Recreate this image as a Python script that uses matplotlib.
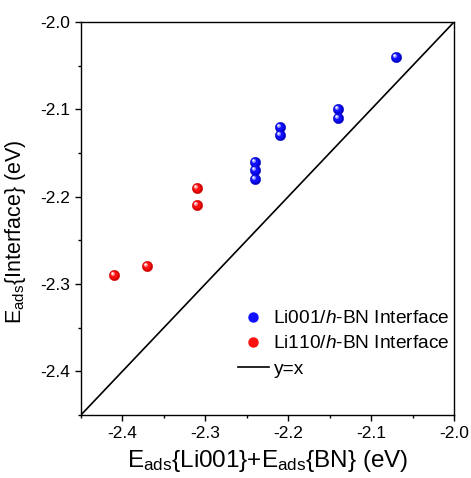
import numpy as np
import matplotlib.pyplot as plt
from matplotlib.path import Path
from matplotlib.lines import Line2D

plt.rcParams['font.family'] = ['Liberation Sans', 'DejaVu Sans']
plt.rcParams['mathtext.fontset'] = 'custom'
plt.rcParams['mathtext.rm'] = 'Liberation Sans'
plt.rcParams['mathtext.it'] = 'Liberation Sans:italic'

# data
li001_x = [-2.07, -2.14, -2.14, -2.21, -2.21, -2.24, -2.24, -2.24]
li001_y = [-2.04, -2.10, -2.11, -2.12, -2.13, -2.16, -2.17, -2.18]
li110_x = [-2.41, -2.37, -2.31, -2.31]
li110_y = [-2.29, -2.28, -2.19, -2.21]
diag = [-2.45, -2.0]

MS = 7.5


def offset_circle(cx, cy, r):
    c = Path.unit_circle()
    verts = c.vertices * r + np.array([cx, cy])
    return Path(verts, c.codes), max(abs(cx) + r, abs(cy) + r)


def sphere(ax, x, y, base, mid, light, ms=MS):
    ax.plot(x, y, 'o', ms=ms, color=base, mec=base, mew=0.3, zorder=3)
    layers = [(-0.12, 0.12, 0.75, mid), (-0.3, 0.3, 0.4, light), (-0.38, 0.38, 0.2, 'white')]
    for cx, cy, r, col in layers:
        p, m = offset_circle(cx, cy, r)
        ax.plot(x, y, ls='none', marker=p, ms=ms * m, color=col, mec='none', zorder=4)


fig = plt.figure(figsize=(4.71, 4.78), dpi=100)
ax = fig.add_axes([0.172, 0.132, 0.792, 0.822])

ax.plot(diag, diag, color='black', lw=1.2, zorder=2)
sphere(ax, li001_x, li001_y, '#0000c8', '#1010ff', '#8080ff')
sphere(ax, li110_x, li110_y, '#d00000', '#ff1010', '#ff8080')

ax.set_xlim(-2.45, -2.0)
ax.set_ylim(-2.45, -2.0)
ax.set_xticks([-2.4, -2.3, -2.2, -2.1, -2.0])
ax.set_yticks([-2.4, -2.3, -2.2, -2.1, -2.0])
ax.set_xticks(np.arange(-2.45, -1.99, 0.05), minor=True)
ax.set_yticks(np.arange(-2.45, -1.99, 0.05), minor=True)
ax.tick_params(which='both', direction='out', labelsize=12.5)
ax.tick_params(which='major', length=4, width=1, pad=4)
ax.tick_params(which='minor', length=2.5, width=1)
ax.xaxis.set_major_formatter(plt.FuncFormatter(lambda v, p: f'{v:.1f}'))
ax.yaxis.set_major_formatter(plt.FuncFormatter(lambda v, p: f'{v:.1f}'))
for s in ax.spines.values():
    s.set_linewidth(1.0)

ax.set_xlabel(r'E$_{\mathrm{ads}}${Li001}+E$_{\mathrm{ads}}${BN} (eV)', fontsize=17.5, labelpad=5)
ax.set_ylabel(r'E$_{\mathrm{ads}}${Interface} (eV)', fontsize=15.5)
ax.yaxis.set_label_coords(-0.142, 0.466)

handles = [
    Line2D([], [], ls='none', marker='o', ms=6.5, color='#1010ff'),
    Line2D([], [], ls='none', marker='o', ms=6.5, color='#ff1010'),
    Line2D([], [], color='black', lw=1.2),
]
labels = [r'Li001/$h$-BN Interface', r'Li110/$h$-BN Interface', 'y=x']
ax.legend(handles, labels, loc='upper left', bbox_to_anchor=(238 / 471, 1 - 310 / 478),
          bbox_transform=fig.transFigure, frameon=False, borderpad=0, borderaxespad=0,
          fontsize=13.8, handlelength=1.6, handletextpad=0.25, labelspacing=0.4)

fig.savefig('out.png', dpi=100)
